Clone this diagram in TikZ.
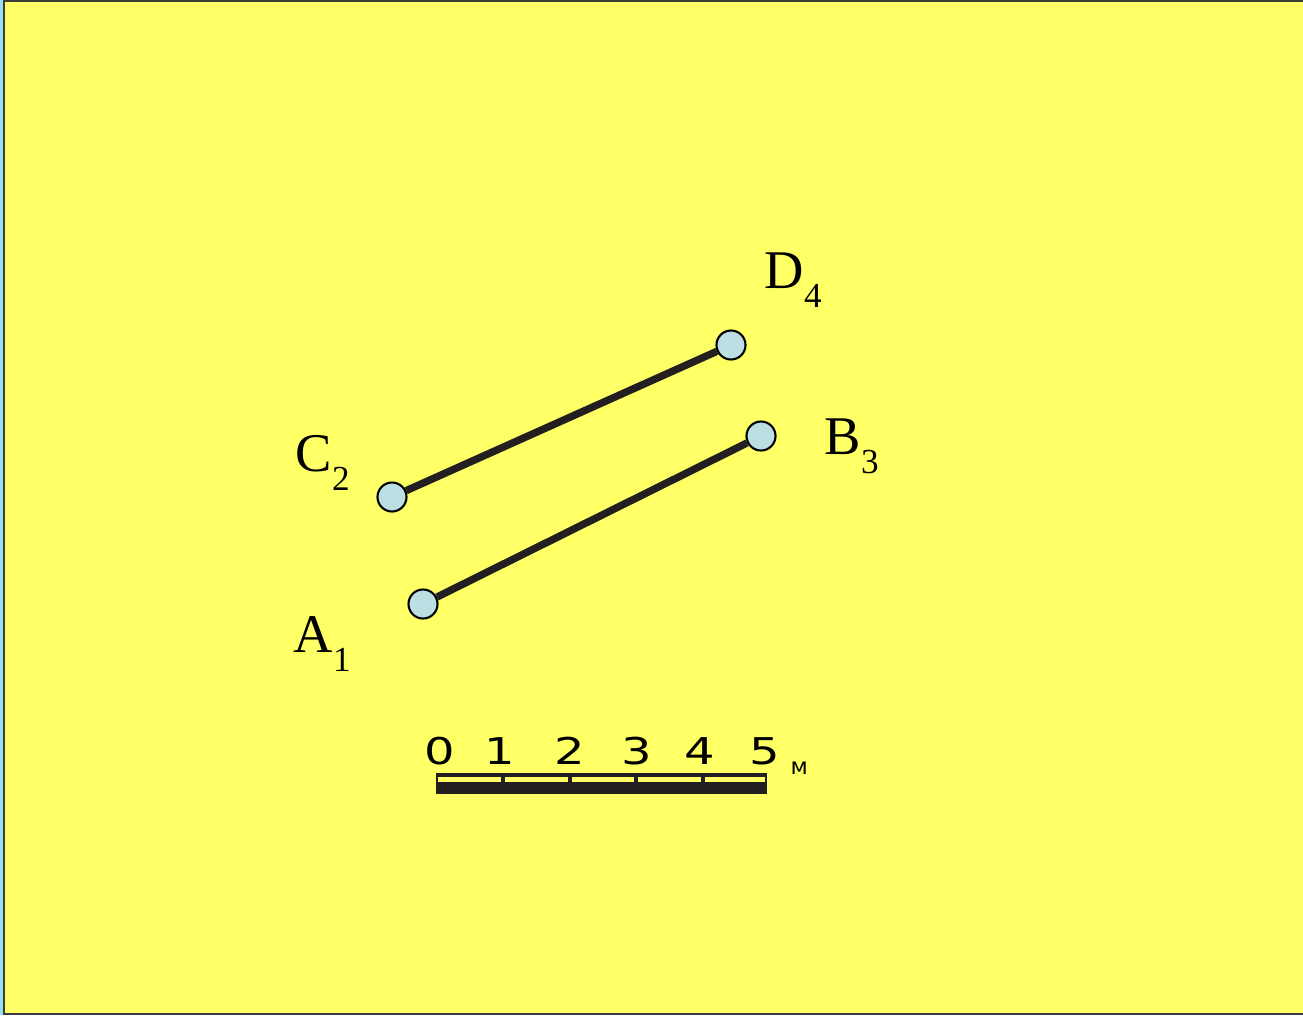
\documentclass[tikz,border=0pt]{standalone}
\usepackage{fontspec}
\setmainfont{Liberation Serif}
\newfontfamily\barfont{DejaVu Sans}
\usetikzlibrary{arrows.meta}

\definecolor{paper}{RGB}{255,255,102}
\definecolor{pin}{RGB}{187,223,227}
\definecolor{ink}{RGB}{35,31,32}
\definecolor{frame}{RGB}{60,60,60}
\definecolor{edge}{RGB}{150,225,235}
\newcommand{\ptlabel}[2]{\fontsize{15.5}{18}\selectfont #1\raisebox{-0.36em}{\fontsize{10}{12}\selectfont #2}}

\begin{document}
\begin{tikzpicture}[x=0.01cm, y=-0.01cm, >=Latex,
  pt/.style={circle, draw=black, fill=pin, line width=0.6pt, minimum size=0.29cm, inner sep=0pt},
  seg/.style={ink, line width=2.1pt},
  lbl/.style={anchor=base west, inner sep=0pt},
  digit/.style={anchor=base, inner sep=0pt, xscale=1.3, font=\barfont\fontsize{10.5}{12}\selectfont}]
  \fill[paper] (0,0) rectangle (1303,1015);
  \useasboundingbox (0,0) rectangle (1303,1015);
  \fill[edge] (0,0) rectangle (3,1015);
  \draw[frame, line width=0.6pt] (1303,1) -- (4,1) -- (4,1014) -- (1303,1014);
  % points
  \node[pt] (a) at (423,604) {};
  \node[pt] (b) at (761,436) {};
  \node[pt] (c) at (392,497) {};
  \node[pt] (d) at (731,345) {};
  \draw[seg] (a) -- (b);
  \draw[seg] (c) -- (d);
  \node[lbl] (la) at (293,652) {\ptlabel{A}{1}};
  \node[lbl] (lb) at (824,454) {\ptlabel{B}{3}};
  \node[lbl] (lc) at (295,471) {\ptlabel{C}{2}};
  \node[lbl] (ld) at (764,288) {\ptlabel{D}{4}};
  % scale bar
  \fill[ink] (436,773) rectangle (767,794);
  \fill[paper] (438,777) rectangle (765,782);
  \foreach \x in {503,570,636,703}
    \fill[ink] (\x-2,777) rectangle (\x+2,782);
  \foreach \x/\n in {440/0,500/1,570/2,637/3,700/4,765/5}
    \node[digit] (n\n) at (\x,764) {\n};
  \node[anchor=base west, inner sep=0pt, font=\barfont\fontsize{6.5}{7}\selectfont] (unit) at (790,774) {м};
\end{tikzpicture}
\end{document}
